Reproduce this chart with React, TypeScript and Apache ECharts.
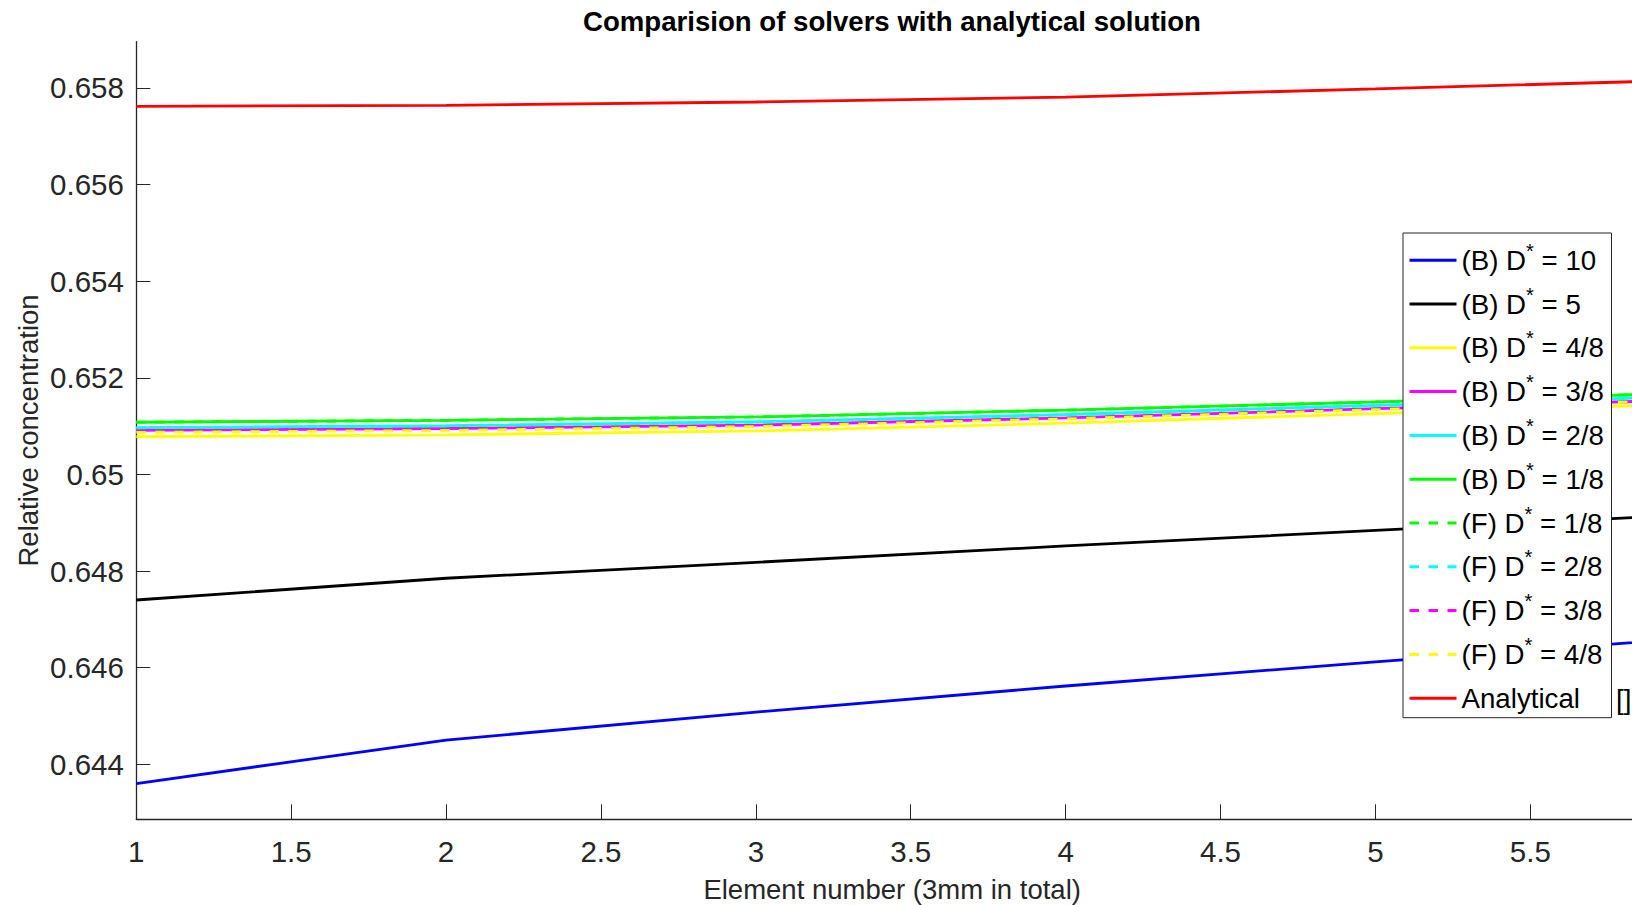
import React, { useEffect, useRef } from "react";
import * as echarts from "echarts";

const xValues = [1, 2, 3, 4, 5, 6];
const xTicks = [1, 1.5, 2, 2.5, 3, 3.5, 4, 4.5, 5, 5.5];
const yTicks = [0.644, 0.646, 0.648, 0.65, 0.652, 0.654, 0.656, 0.658];

const b10 = [0.6436, 0.6445, 0.64508, 0.64562, 0.64612, 0.6466];
const b5 = [0.6474, 0.64785, 0.64818, 0.64852, 0.64884, 0.64916];
const b48 = [0.65078, 0.65082, 0.6509, 0.65106, 0.65126, 0.65145];
const b38 = [0.65091, 0.65095, 0.65102, 0.65117, 0.65136, 0.65154];
const b28 = [0.65097, 0.65101, 0.65109, 0.65124, 0.65143, 0.65161];
const b18 = [0.65108, 0.65112, 0.65119, 0.65133, 0.6515, 0.65168];
const f18 = [0.65108, 0.65112, 0.65119, 0.65133, 0.6515, 0.65168];
const f28 = [0.65096, 0.651, 0.65108, 0.65123, 0.65142, 0.6516];
const f38 = [0.6509, 0.65094, 0.65101, 0.65116, 0.65135, 0.65153];
const f48 = [0.65087, 0.65091, 0.65099, 0.65115, 0.65134, 0.65153];
const analytical = [0.65762, 0.65764, 0.65771, 0.65781, 0.65798, 0.65816];

const seriesDefs = [
  { name: "(B) D* = 10", data: b10, color: "#0000ff", dashed: false },
  { name: "(B) D* = 5", data: b5, color: "#000000", dashed: false },
  { name: "(B) D* = 4/8", data: b48, color: "#ffff00", dashed: false },
  { name: "(B) D* = 3/8", data: b38, color: "#ff00ff", dashed: false },
  { name: "(B) D* = 2/8", data: b28, color: "#00ffff", dashed: false },
  { name: "(B) D* = 1/8", data: b18, color: "#00ff00", dashed: false },
  { name: "(F) D* = 1/8", data: f18, color: "#00ff00", dashed: true },
  { name: "(F) D* = 2/8", data: f28, color: "#00ffff", dashed: true },
  { name: "(F) D* = 3/8", data: f38, color: "#ff00ff", dashed: true },
  { name: "(F) D* = 4/8", data: f48, color: "#ffff00", dashed: true },
  { name: "Analytical", data: analytical, color: "#ff0000", dashed: false },
];

const FONT = "'Liberation Sans', Arial, Helvetica, sans-serif";
const AXIS_COLOR = "#262626";

export default function App() {
  const ref = useRef<HTMLDivElement>(null);
  useEffect(() => {
    const chart = echarts.init(ref.current!, undefined, { renderer: "svg" });
    const option: any = {
      animation: false,
      backgroundColor: "#ffffff",
      grid: {
        left: 136.3,
        right: 52,
        top: 41.6,
        bottom: 85.7,
        containLabel: false,
        outerBoundsMode: "none",
      },
      graphic: [
        {
          type: "text",
          x: 892,
          y: 21,
          style: {
            text: "Comparision of solvers with analytical solution",
            font: `bold 27.6px ${FONT}`,
            fill: "#000",
            textAlign: "center",
            textVerticalAlign: "middle",
          },
        },
        {
          type: "text",
          x: 1616,
          y: 699,
          z: 100,
          style: {
            text: "[]",
            font: `27.7px ${FONT}`,
            fill: "#000",
            textAlign: "left",
            textVerticalAlign: "middle",
          },
        },
      ],
      xAxis: {
        type: "value",
        min: 1,
        max: 5.88,
        name: "Element number (3mm in total)",
        nameLocation: "middle",
        nameGap: 55.6,
        nameMoveOverlap: false,
        nameTextStyle: { fontFamily: FONT, fontSize: 27.5, color: AXIS_COLOR, lineHeight: 30 },
        axisLine: { show: true, onZero: false, lineStyle: { color: AXIS_COLOR, width: 1.3 } },
        axisTick: { show: true, inside: true, length: 15, customValues: xTicks, lineStyle: { color: AXIS_COLOR, width: 1 } },
        axisLabel: {
          customValues: xTicks,
          margin: 17,
          fontFamily: FONT,
          fontSize: 29.5,
          lineHeight: 30,
          color: AXIS_COLOR,
        },
        splitLine: { show: false },
      },
      yAxis: {
        type: "value",
        min: 0.64286,
        max: 0.65896,
        name: "Relative concentration",
        nameLocation: "middle",
        nameGap: 93,
        nameMoveOverlap: false,
        nameTextStyle: { fontFamily: FONT, fontSize: 27.5, color: AXIS_COLOR, lineHeight: 30 },
        axisLine: { show: true, onZero: false, lineStyle: { color: AXIS_COLOR, width: 1.3 } },
        axisTick: { show: true, inside: true, length: 14, customValues: yTicks, lineStyle: { color: AXIS_COLOR, width: 1 } },
        axisLabel: {
          customValues: yTicks,
          margin: 12.4,
          fontFamily: FONT,
          fontSize: 29.5,
          color: AXIS_COLOR,
        },
        splitLine: { show: false },
      },
      legend: {
        orient: "vertical",
        left: 1403,
        top: 233,
        padding: [7.7, 2, 0, 5],
        itemGap: 4.8,
        itemWidth: 47,
        itemHeight: 14,
        backgroundColor: "#ffffff",
        borderColor: AXIS_COLOR,
        borderWidth: 1,
        itemStyle: { opacity: 0, color: "rgba(0,0,0,0)", borderWidth: 0, borderColor: "rgba(0,0,0,0)" },
        lineStyle: { width: 3 },
        data: seriesDefs.map((s) => s.name),
        formatter: (name: string) => name.replace("D*", "D{sup|*}"),
        textStyle: {
          fontFamily: FONT,
          fontSize: 27.7,
          color: "#000",
          lineHeight: 39,
          width: 148,
          rich: {
            sup: { fontFamily: FONT, fontSize: 20, lineHeight: 1, verticalAlign: "top", color: "#000" },
          },
        },
      },
      series: seriesDefs.map((s) => ({
        name: s.name,
        type: "line",
        data: xValues.map((x, i) => [x, s.data[i]]),
        symbol: "none",
        showSymbol: false,
        clip: true,
        color: s.color,
        lineStyle: { color: s.color, width: 2.8, type: s.dashed ? [9.5, 9.5] : "solid" },
        emphasis: { disabled: true },
      })),
    };
    chart.setOption(option);
    return () => chart.dispose();
  }, []);
  return (
    <div
      style={{
        position: "absolute",
        left: 0,
        top: 0,
        width: 1632,
        height: 905,
        overflow: "hidden",
        background: "#fff",
      }}
    >
      <div ref={ref} style={{ width: 1700, height: 905 }} />
    </div>
  );
}
